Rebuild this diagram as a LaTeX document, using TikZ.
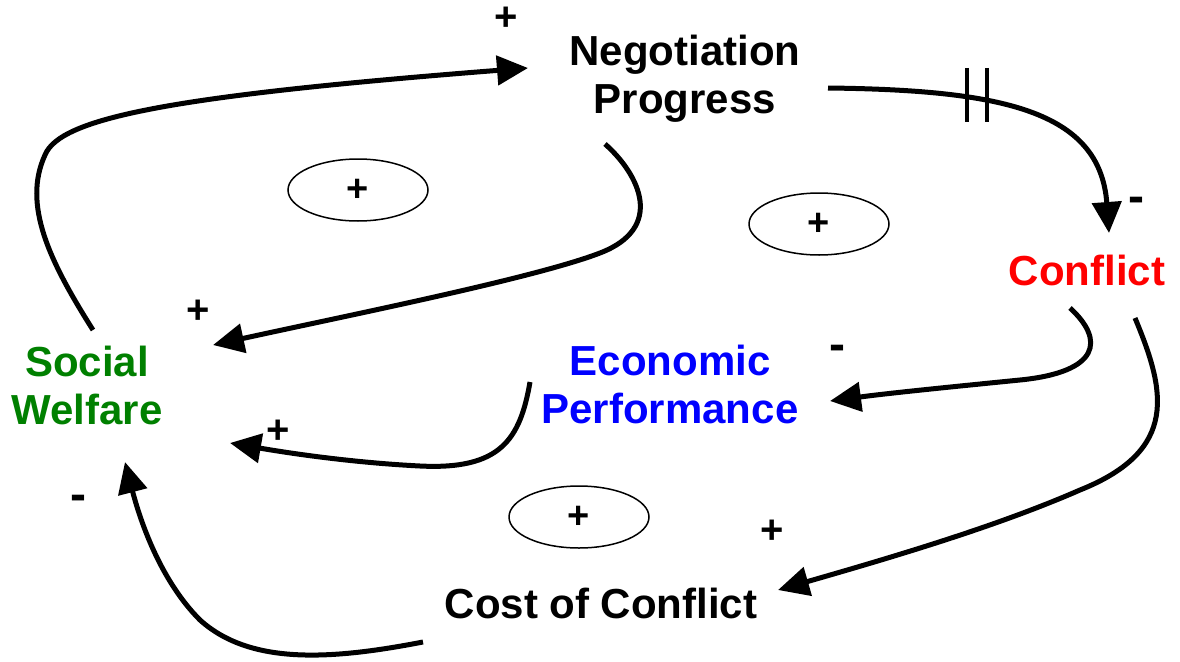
\documentclass[tikz,border=0pt]{standalone}
\usepackage{fontspec}
\setmainfont{Liberation Sans}
\usetikzlibrary{arrows.meta,shapes.geometric}
\definecolor{swgreen}{RGB}{0,128,0}
\definecolor{epblue}{RGB}{0,0,255}
\definecolor{cfred}{RGB}{255,0,0}
\tikzset{
  var/.style={font=\fontsize{42}{48}\selectfont\bfseries, align=center, inner sep=0pt, anchor=north},
  pol/.style={font=\fontsize{40}{44}\selectfont\bfseries, inner sep=0pt},
  neg/.style={font=\fontsize{48}{52}\selectfont\bfseries, inner sep=0pt},
  link/.style={line width=5pt, -{Triangle[length=31pt,width=29pt]}},
  loopmark/.style={draw, ellipse, line width=1.5pt, minimum width=140pt, minimum height=62pt, inner sep=0pt, font=\fontsize{38}{40}\selectfont\bfseries},
  delaybar/.style={line width=4pt}
}
\begin{document}
\begin{tikzpicture}[x=1pt,y=-1pt]
\useasboundingbox[fill=white] (0,0) rectangle (1180,661);
% variables
\node[var] (np) at (685,35) {Negotiation\\Progress};
\node[var, text=cfred] (cf) at (1087,255) {Conflict};
\node[var, text=epblue] (ep) at (670,345) {Economic\\Performance};
\node[var, text=swgreen] (sw) at (87,346) {Social\\Welfare};
\node[var] (cc) at (601,588) {Cost of Conflict};
% loop markers
\node[loopmark] (l1) at (358,190) {+};
\node[loopmark] (l2) at (819,224) {+};
\node[loopmark] (l3) at (579,517) {+};
% connector ends
\coordinate (a1) at (93,330);   \coordinate (b1) at (528,68);
\coordinate (a2) at (605,144);  \coordinate (b2) at (213,345);
\coordinate (a3) at (828,88);   \coordinate (b3) at (1109,233);
\coordinate (a4) at (1070,308); \coordinate (b4) at (830,401);
\coordinate (a5) at (1135,318); \coordinate (b5) at (778,590);
\coordinate (a6) at (530,382);  \coordinate (b6) at (230,443);
\coordinate (a7) at (423,642);  \coordinate (b7) at (125,462);
% Social Welfare -> Negotiation Progress
\draw[link] (a1) .. controls (50,262) and (22,205) .. (45,155) .. controls (60,118) and (170,96) .. (b1);
% Negotiation Progress -> Social Welfare
\draw[link] (a2) .. controls (640,175) and (665,228) .. (600,253) .. controls (535,278) and (350,315) .. (b2);
% Negotiation Progress -> Conflict (delayed)
\draw[link] (a3) .. controls (1000,90) and (1100,110) .. (b3);
\draw[delaybar] (967,68) -- (967,122);
\draw[delaybar] (987,68) -- (987,122);
% Conflict -> Economic Performance
\draw[link] (a4) .. controls (1105,340) and (1100,372) .. (1020,380) .. controls (950,387) and (890,393) .. (b4);
% Conflict -> Cost of Conflict
\draw[link] (a5) .. controls (1165,390) and (1180,450) .. (1080,490) .. controls (1000,525) and (900,555) .. (b5);
% Economic Performance -> Social Welfare
\draw[link] (a6) .. controls (520,440) and (500,470) .. (420,466) .. controls (360,463) and (300,455) .. (b6);
% Cost of Conflict -> Social Welfare
\draw[link] (a7) .. controls (330,660) and (250,665) .. (200,620) .. controls (160,580) and (140,520) .. (b7);
% polarities
\node[pol] (p1) at (506,19) {+};
\node[pol] (p2) at (198,312) {+};
\node[neg] (p3) at (1136,205) {-};
\node[neg] (p4) at (837,353) {-};
\node[pol] (p5) at (278,432) {+};
\node[neg] (p6) at (78,503) {-};
\node[pol] (p7) at (772,532) {+};
\end{tikzpicture}
\end{document}
